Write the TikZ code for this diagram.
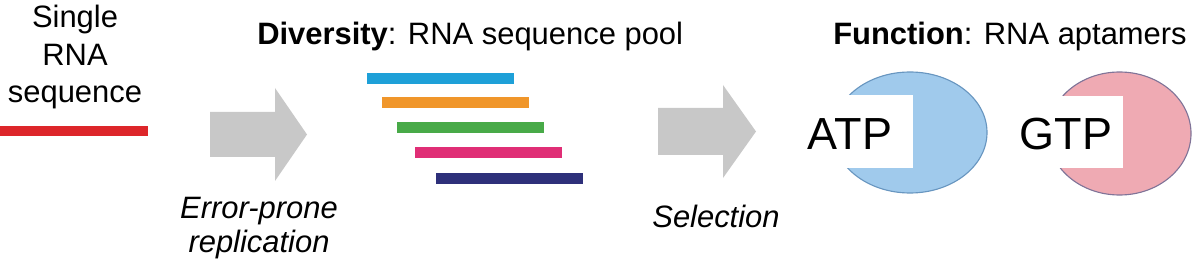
\documentclass[tikz,border=0pt]{standalone}
\usepackage{fontspec}
\setmainfont{Liberation Sans}
\usepackage{tikz}
\usetikzlibrary{positioning}
\usepackage{xcolor}
\definecolor{seqred}{RGB}{221,38,42}
\definecolor{seqblue}{RGB}{30,160,216}
\definecolor{seqorange}{RGB}{240,150,42}
\definecolor{seqgreen}{RGB}{72,170,72}
\definecolor{seqpink}{RGB}{224,46,118}
\definecolor{seqnavy}{RGB}{46,48,122}
\definecolor{arrowgray}{RGB}{200,200,200}
\definecolor{atpfill}{RGB}{160,202,236}
\definecolor{atpline}{RGB}{104,150,192}
\definecolor{gtpfill}{RGB}{239,170,179}
\definecolor{gtpline}{RGB}{128,116,152}

\begin{document}
\begin{tikzpicture}[line cap=butt,
  lbl/.style={inner sep=0pt,font=\fontsize{22}{27}\selectfont},
  steplbl/.style={inner sep=0pt,font=\fontsize{22}{24}\selectfont\itshape},
  molbl/.style={inner sep=0pt,font=\fontsize{32}{36}\selectfont}]
\useasboundingbox (0,0) rectangle (30,6.725);
% starting sequence
\node[lbl,align=center,anchor=base] (single) at (1.875,4.15) {Single\\RNA\\sequence};
\fill[seqred] (0,3.325) rectangle (3.7,3.575);
% first step
\fill[arrowgray] (5.25,2.8) -- (6.875,2.8) -- (6.875,2.2) -- (7.675,3.3625)
  -- (6.875,4.525) -- (6.875,3.925) -- (5.25,3.925) -- cycle;
\node[steplbl,align=center,anchor=base] (replic) at (6.475,0.425) {Error-prone\\replication};
% sequence pool
\node[lbl,anchor=base west] (pool) at (6.425,5.6) {\textbf{Diversity}: RNA sequence pool};
\fill[seqblue]   (9.175,4.6125) rectangle ++(3.675,0.275);
\fill[seqorange] (9.55,4.025) rectangle ++(3.675,0.275);
\fill[seqgreen]  (9.925,3.4) rectangle ++(3.675,0.275);
\fill[seqpink]   (10.375,2.775) rectangle ++(3.675,0.275);
\fill[seqnavy]   (10.9,2.125) rectangle ++(3.675,0.275);
% second step
\fill[arrowgray] (16.45,2.85) -- (18.075,2.85) -- (18.075,2.275) -- (18.9,3.4375)
  -- (18.075,4.6) -- (18.075,4.025) -- (16.45,4.025) -- cycle;
\node[steplbl,anchor=base] (select) at (17.9,1.05) {Selection};
% aptamers
\node[lbl,anchor=base west] (func) at (20.825,5.6) {\textbf{Function}: RNA aptamers};
\filldraw[fill=atpfill,draw=atpline,thick] (22.75,3.4125) ellipse (1.925 and 1.5125);
\fill[white] (20.6,2.525) rectangle (22.825,4.35);
\node[molbl,anchor=base] (atp) at (21.25,2.975) {ATP};
\filldraw[fill=gtpfill,draw=gtpline,thick] (27.9875,3.3875) ellipse (1.7875 and 1.5375);
\fill[white] (26.0,2.525) rectangle (28.075,4.325);
\node[molbl,anchor=base] (gtp) at (26.65,2.975) {GTP};
\end{tikzpicture}
\end{document}
